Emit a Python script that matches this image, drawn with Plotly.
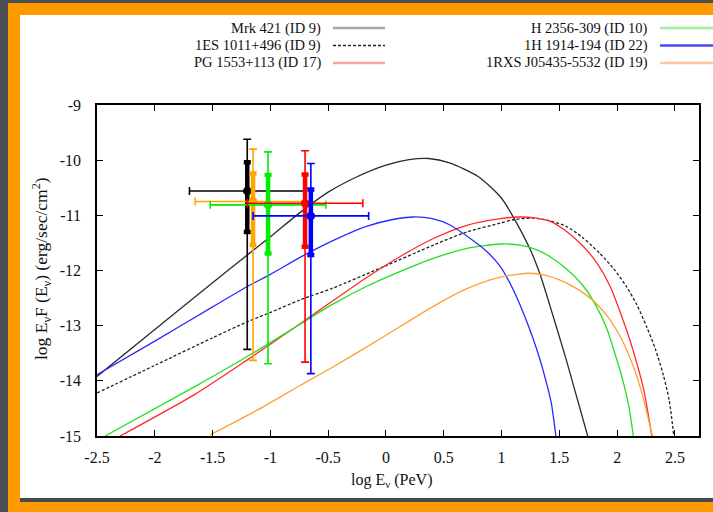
import plotly.graph_objects as go

# ---- model curves: log E (PeV) vs log E*F(E) (erg/sec/cm^2) ----
mrk421_x = [-2.5, -2.0, -1.5, -1.2, -1.0, -0.75, -0.5, -0.25, 0.0, 0.2, 0.37, 0.55, 0.8, 1.0, 1.12, 1.25, 1.33, 1.42, 1.56, 1.745]
mrk421_y = [-13.92, -13.07, -12.22, -11.72, -11.39, -10.96, -10.58, -10.30, -10.09, -9.99, -9.97, -10.05, -10.30, -10.69, -11.10, -11.63, -12.05, -12.65, -13.62, -15.0]

es1011_x = [-2.5, -2.0, -1.5, -1.2, -1.0, -0.74, -0.46, -0.02, 0.41, 0.70, 0.99, 1.10, 1.27, 1.42, 1.56, 1.70, 1.85, 1.97, 2.08, 2.17, 2.255, 2.33, 2.40, 2.45, 2.49]
es1011_y = [-14.22, -13.72, -13.22, -12.93, -12.76, -12.53, -12.32, -11.93, -11.54, -11.30, -11.14, -11.08, -11.05, -11.10, -11.20, -11.40, -11.69, -11.97, -12.29, -12.62, -13.02, -13.42, -13.90, -14.35, -15.0]

pg1553_x = [-2.30, -1.65, -1.2, -0.74, -0.46, -0.17, 0.12, 0.41, 0.70, 0.99, 1.15, 1.30, 1.42, 1.56, 1.71, 1.83, 1.94, 2.02, 2.11, 2.17, 2.23, 2.30]
pg1553_y = [-15.0, -14.24, -13.62, -12.96, -12.55, -12.13, -11.75, -11.42, -11.18, -11.06, -11.03, -11.05, -11.11, -11.29, -11.57, -11.88, -12.29, -12.72, -13.26, -13.68, -14.16, -15.0]

h2356_x = [-2.43, -1.65, -1.2, -0.74, -0.46, -0.17, 0.12, 0.41, 0.70, 0.99, 1.16, 1.30, 1.42, 1.56, 1.71, 1.82, 1.91, 1.98, 2.05, 2.10, 2.14]
h2356_y = [-15.0, -14.10, -13.56, -12.97, -12.61, -12.29, -12.02, -11.78, -11.60, -11.52, -11.54, -11.62, -11.75, -11.97, -12.29, -12.65, -13.05, -13.50, -14.0, -14.45, -15.0]

h1914_x = [-2.5, -2.0, -1.5, -1.2, -1.0, -0.75, -0.45, -0.17, 0.05, 0.24, 0.4, 0.55, 0.75, 0.87, 0.99, 1.06, 1.13, 1.20, 1.27, 1.33, 1.39, 1.43, 1.47]
h1914_y = [-13.89, -13.28, -12.66, -12.29, -12.07, -11.77, -11.45, -11.20, -11.08, -11.03, -11.06, -11.17, -11.45, -11.65, -11.93, -12.18, -12.48, -12.83, -13.22, -13.60, -14.05, -14.40, -15.0]

rxs0543_x = [-1.52, -1.13, -0.74, -0.46, -0.17, 0.12, 0.41, 0.70, 0.99, 1.25, 1.38, 1.50, 1.60, 1.71, 1.83, 1.94, 2.04, 2.14, 2.19, 2.23, 2.305]
rxs0543_y = [-14.98, -14.55, -14.08, -13.75, -13.39, -13.02, -12.65, -12.33, -12.12, -12.05, -12.09, -12.17, -12.27, -12.41, -12.62, -12.90, -13.25, -13.74, -14.05, -14.35, -15.0]

# ---- measured points (drawn in this order) ----
pt_names = ["Mrk 421", "1RXS J05435-5532", "H 2356-309", "PG 1553+113", "1H 1914-194"]
pt_x = [-1.20, -1.15, -1.02, -0.70, -0.65]
pt_y = [-10.56, -10.75, -10.81, -10.78, -11.01]
pt_xerr = [0.5, 0.5, 0.5, 0.5, 0.5]
stat_top = [-10.04, -10.24, -10.27, -10.26, -10.53]
stat_bot = [-11.30, -11.54, -11.69, -11.57, -11.72]
sys_top = [-9.62, -9.80, -9.85, -9.83, -10.06]
sys_bot = [-13.43, -13.63, -13.69, -13.66, -13.87]
pt_colors = ["#000000", "#ffa500", "#00ee00", "#ff0000", "#0000ff"]

# ---- legend entries ----
legend_left = ["Mrk 421 (ID 9)", "1ES 1011+496 (ID 9)", "PG 1553+113 (ID 17)"]
legend_right = ["H 2356-309 (ID 10)", "1H 1914-194 (ID 22)", "1RXS J05435-5532 (ID 19)"]

W, H = 713, 512
ML, MR, MT, MB = 97, 14, 105, 76
PW, PH = W - ML - MR, H - MT - MB


def px(xp):
    return (xp - ML) / PW


def py(yp):
    return (H - MB - yp) / PH


SERIF = "Liberation Serif, Times New Roman, serif"

fig = go.Figure()

curves = [
    (mrk421_x, mrk421_y, "#2a2a2a", "solid"),
    (es1011_x, es1011_y, "#222222", "3px,2px"),
    (pg1553_x, pg1553_y, "#ff2a2a", "solid"),
    (h2356_x, h2356_y, "#22e022", "solid"),
    (h1914_x, h1914_y, "#2a2aff", "solid"),
    (rxs0543_x, rxs0543_y, "#ffa033", "solid"),
]
for cx, cy, col, dash in curves:
    fig.add_trace(go.Scatter(
        x=cx, y=cy, mode="lines",
        line=dict(color=col, width=1.3, dash=dash, shape="spline", smoothing=0.7),
        showlegend=False, hoverinfo="skip"))

for i in range(len(pt_x)):
    col = pt_colors[i]
    # systematic (thin) bars with the energy band
    fig.add_trace(go.Scatter(
        x=[pt_x[i]], y=[pt_y[i]], mode="markers",
        marker=dict(color=col, size=8),
        error_x=dict(type="data", array=[pt_xerr[i]], color=col, thickness=1.6, width=4),
        error_y=dict(type="data", symmetric=False,
                     array=[sys_top[i] - pt_y[i]], arrayminus=[pt_y[i] - sys_bot[i]],
                     color=col, thickness=1.6, width=4),
        showlegend=False, name=pt_names[i]))
    # statistical (thick) bars
    fig.add_trace(go.Scatter(
        x=[pt_x[i]], y=[pt_y[i]], mode="markers",
        marker=dict(color=col, size=8),
        error_y=dict(type="data", symmetric=False,
                     array=[stat_top[i] - pt_y[i]], arrayminus=[pt_y[i] - stat_bot[i]],
                     color=col, thickness=4.5, width=3.5),
        showlegend=False, name=pt_names[i]))

shapes = [
    # orange frame, dark seam and white panel
    dict(type="rect", xref="paper", yref="paper", x0=px(8), x1=px(713), y0=py(512), y1=py(3),
         fillcolor="#ff9900", line=dict(width=0), layer="below"),
    dict(type="rect", xref="paper", yref="paper", x0=px(20), x1=px(713), y0=py(502), y1=py(498),
         fillcolor="#464b50", line=dict(width=0), layer="below"),
    dict(type="rect", xref="paper", yref="paper", x0=px(20), x1=px(713), y0=py(498), y1=py(15),
         fillcolor="#ffffff", line=dict(width=0), layer="below"),
]

annotations = []
rows = [28, 45.5, 63]
left_styles = [("#a8a8a8", "solid", 2.5), ("#222222", "3px,2px", 1.3), ("#ffa0a0", "solid", 2.5)]
right_styles = [("#a0f0a0", "solid", 2.5), ("#4a4af5", "solid", 2.5), ("#ffc8a0", "solid", 2.5)]
for labels, styles, xtxt, xl0, xl1 in [(legend_left, left_styles, 323, 333, 385),
                                         (legend_right, right_styles, 650, 660, 713)]:
    for lab, (col, dash, lw), yr in zip(labels, styles, rows):
        annotations.append(dict(text=lab, xref="paper", yref="paper", x=px(xtxt), y=py(yr),
                                xanchor="right", yanchor="middle", showarrow=False,
                                font=dict(family=SERIF, size=14.5, color="#111111")))
        shapes.append(dict(type="line", xref="paper", yref="paper", x0=px(xl0), x1=px(xl1),
                           y0=py(yr), y1=py(yr), line=dict(color=col, width=lw, dash=dash)))

annotations.append(dict(text="log E<sub>ν</sub> (PeV)", xref="paper", yref="paper",
                        x=px(392), y=py(480), xanchor="center", yanchor="middle", showarrow=False,
                        font=dict(family=SERIF, size=16, color="#111111")))
annotations.append(dict(text="log E<sub>ν</sub>F (E<sub>ν</sub>) (erg/sec/cm<sup>2</sup>)",
                        xref="paper", yref="paper", x=px(41), y=py(269), textangle=-90,
                        xanchor="center", yanchor="middle", showarrow=False,
                        font=dict(family=SERIF, size=17.5, color="#111111")))

axis_common = dict(showline=True, linecolor="#000000", linewidth=1.5, mirror="ticks",
                   ticks="inside", ticklen=6, tickwidth=1.2, tickcolor="#000000",
                   showgrid=False, zeroline=False,
                   tickfont=dict(family=SERIF, size=16, color="#111111"))

fig.update_layout(
    width=W, height=H,
    margin=dict(l=ML, r=MR, t=MT, b=MB, pad=0),
    paper_bgcolor="#4b5054", plot_bgcolor="#ffffff",
    showlegend=False,
    shapes=shapes, annotations=annotations,
    xaxis=dict(range=[-2.5, 2.708], tickvals=[-2.5, -2, -1.5, -1, -0.5, 0, 0.5, 1, 1.5, 2, 2.5],
               ticktext=["-2.5", "-2", "-1.5", "-1", "-0.5", "0", "0.5", "1", "1.5", "2", "2.5"],
               ticklabelstandoff=6, **axis_common),
    yaxis=dict(range=[-15, -9], tickvals=[-15, -14, -13, -12, -11, -10, -9],
               ticktext=["-15", "-14", "-13", "-12", "-11", "-10", "-9"],
               ticklabelstandoff=11, **axis_common),
)

fig.write_html("out.html")
